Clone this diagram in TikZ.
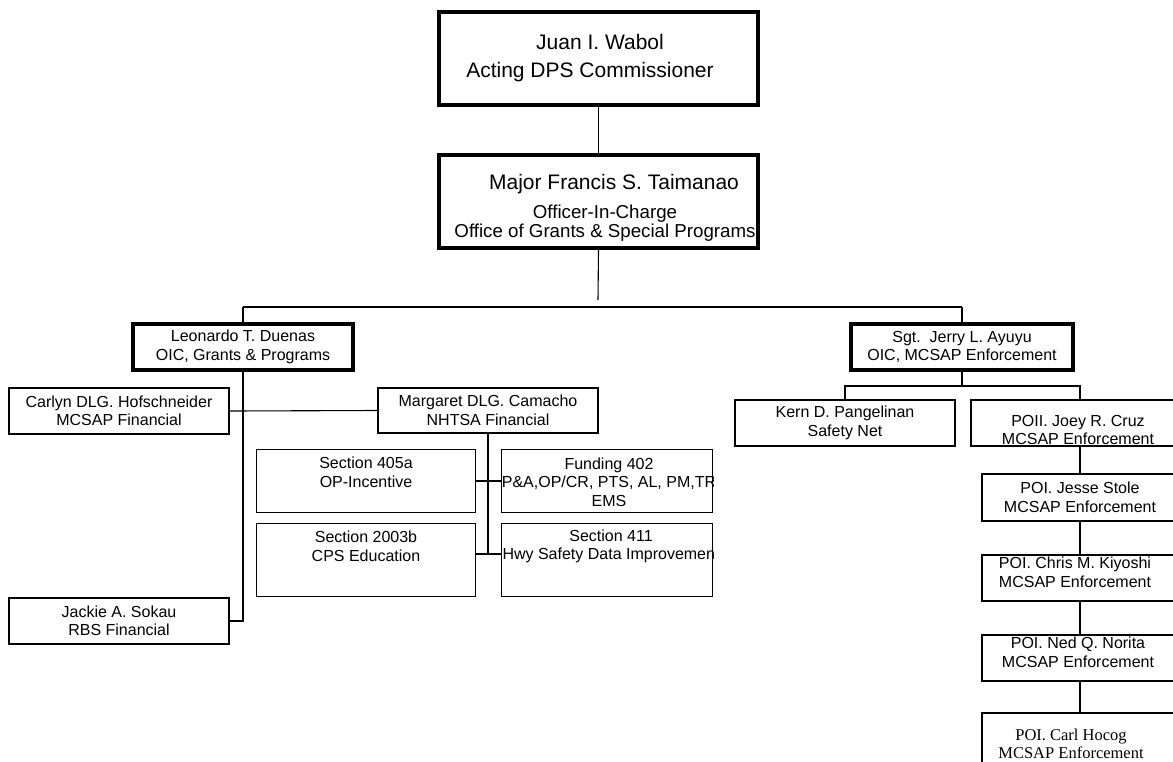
\documentclass[tikz,border=0pt]{standalone}
\usepackage{fontspec}
\setmainfont{Liberation Sans}
\newfontfamily\carlserif{Liberation Serif}
\begin{document}
\begin{tikzpicture}[x=1pt,y=-1pt,
  box/.style={draw, inner sep=0pt, align=center, font=\fontsize{16}{18.5}\selectfont},
  heavy/.style={box, line width=4pt},
  mid/.style={box, line width=2.2pt},
  light/.style={box, line width=1.2pt},
  txt/.style={inner sep=0pt, align=center, font=\fontsize{16}{18.5}\selectfont},
  bigtxt/.style={inner sep=0pt, align=center, font=\fontsize{21}{25}\selectfont},
  conn/.style={line width=1.1pt}]

\useasboundingbox (0,0) rectangle (1173,761);

% top level
\node[heavy, minimum width=319, minimum height=93] (top) at (598.5,58.5) {};
\node[bigtxt] (topA) at (600,42) {Juan I. Wabol};
\node[bigtxt] (topB) at (590,72) {Acting DPS Commissioner};

\node[heavy, minimum width=319, minimum height=93] (major) at (598.5,201.5) {};
\node[bigtxt] (majorA) at (614,184) {Major Francis S. Taimanao};
\node[txt, font=\fontsize{18.7}{16}\selectfont] (majorB) at (605,223) {Officer-In-Charge\\Office of Grants \& Special Programs};

% second level
\node[heavy, minimum width=220, minimum height=46] (duenas) at (243,347) {Leonardo T. Duenas\\OIC, Grants \& Programs};
\node[heavy, minimum width=222, minimum height=46] (ayuyu) at (962,347) {Sgt.\ \ Jerry L. Ayuyu\\OIC, MCSAP Enforcement};

% left branch
\node[mid, minimum width=220, minimum height=46] (carlyn) at (119,411) {Carlyn DLG. Hofschneider\\MCSAP Financial};
\node[mid, minimum width=220, minimum height=45] (camacho) at (488,410.5) {Margaret DLG. Camacho\\NHTSA Financial};
\node[mid, minimum width=220, minimum height=46] (sokau) at (119,621) {Jackie A. Sokau\\RBS Financial};

\node[light, minimum width=219, minimum height=63] (s405) at (366,481) {};
\node[txt] (s405t) at (366,472.5) {Section 405a\\OP-Incentive};
\node[light, minimum width=211, minimum height=63] (f402) at (607,481) {};
\begin{scope}
  \clip (f402.south west) rectangle (f402.north east);
  \node[txt] (f402t) at (609,482) {Funding 402\\P\&A,OP/CR, PTS, AL, PM,TR\\EMS};
\end{scope}
\node[light, minimum width=219, minimum height=73] (s2003) at (366,560) {};
\node[txt] (s2003t) at (366,546.5) {Section 2003b\\CPS Education};
\node[light, minimum width=211, minimum height=73] (s411) at (607,560) {};
\begin{scope}
  \clip (s411.south west) rectangle (s411.north east);
  \node[txt] (s411t) at (611,546.5) {Section 411\\Hwy Safety Data Improvement};
\end{scope}

% right branch
\node[mid, minimum width=220, minimum height=46] (kern) at (845,423) {Kern D. Pangelinan\\Safety Net};
\node[mid, minimum width=218, minimum height=46] (joey) at (1080,423) {};
\node[txt] (joeyt) at (1078,430) {POII. Joey R. Cruz\\MCSAP Enforcement};
\node[mid, minimum width=196, minimum height=47] (jesse) at (1080,497.5) {POI. Jesse Stole\\MCSAP Enforcement};
\node[mid, minimum width=196, minimum height=46] (chris) at (1080,578) {};
\node[txt] (christ) at (1075,572.5) {POI. Chris M. Kiyoshi\\MCSAP Enforcement};
\node[mid, minimum width=196, minimum height=46] (ned) at (1080,658) {};
\node[txt] (nedt) at (1078,652.5) {POI. Ned Q. Norita\\MCSAP Enforcement};
\node[mid, minimum width=196, minimum height=80] (carl) at (1080,753) {};
\node[txt, font=\carlserif\fontsize{16.5}{18}\selectfont] (carlt) at (1071,744) {POI. Carl Hocog\\MCSAP Enforcement};

% connectors
\coordinate (stub) at (598,300);
\coordinate (busL) at (243,307);
\coordinate (busR) at (962,307);
\coordinate (camEnd) at (488,554);
\coordinate (rbus) at (962,386);

\draw[conn] (top.south) -- (major.north);
\draw[conn] (major.south) -- (stub);
\draw[conn] (busL) -- (busR);
\draw[conn] (busL) -- (duenas.north);
\draw[conn] (busR) -- (ayuyu.north);

\draw[conn] (duenas.south) |- (sokau.east);
\draw[conn] (carlyn.east) -- (camacho.west);
\draw[conn, line width=2pt] (camacho.south) -- (camEnd);
\draw[conn] (s405.east) -- (f402.west);
\draw[conn] (s2003.east |- camEnd) -- (s411.west |- camEnd);

\draw[conn] (ayuyu.south) -- (rbus);
\draw[conn] (kern.north) -- (kern.north |- rbus) -- (joey.north |- rbus) -- (joey.north);
\draw[conn] (joey.south) -- (jesse.north);
\draw[conn, line width=2pt] (jesse.south) -- (chris.north);
\draw[conn] (chris.south) -- (ned.north);
\draw[conn] (ned.south) -- (carl.north);
\end{tikzpicture}
\end{document}
